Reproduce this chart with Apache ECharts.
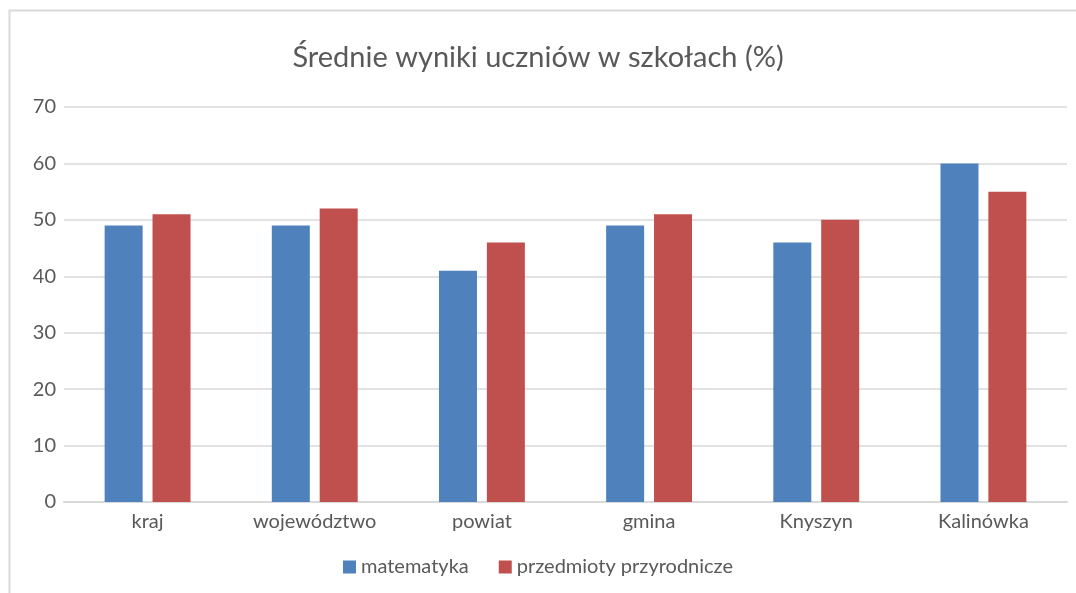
<!DOCTYPE html>
<html>
<head>
<meta charset="utf-8">
<script src="https://cdn.jsdelivr.net/npm/echarts@6/dist/echarts.min.js"></script>
<style>html,body{margin:0;padding:0;background:#fff;}</style>
</head>
<body>
<div id="main" style="width:1076px;height:593px;"></div>
<script>
// dane
var categories = ['kraj', 'województwo', 'powiat', 'gmina', 'Knyszyn', 'Kalinówka'];
var matematyka = [49, 49, 41, 49, 46, 60];
var przyroda = [51, 52, 46, 51, 50, 55];

var chart = echarts.init(document.getElementById('main'));
var font = 'Lato, "Open Sans", sans-serif';
chart.setOption({
    animation: false,
    textStyle: { fontFamily: font },
    graphic: [{
        type: 'rect',
        shape: { x: 9.5, y: 10.5, width: 1200, height: 800 },
        style: { fill: 'none', stroke: '#d9d9d9', lineWidth: 2 }
    }],
    title: {
        text: 'Średnie wyniki uczniów w szkołach (%)',
        left: 'center',
        top: 38,
        textStyle: { fontSize: 29, fontWeight: 'normal', color: '#595959', fontFamily: font }
    },
    grid: { left: 64, right: 9, top: 107, bottom: 91 },
    legend: {
        top: 552,
        left: 'center',
        itemWidth: 13,
        itemHeight: 13,
        itemGap: 30,
        icon: 'rect',
        textStyle: { fontSize: 20, color: '#595959', fontFamily: font },
        data: ['matematyka', 'przedmioty przyrodnicze']
    },
    xAxis: {
        type: 'category',
        data: categories,
        axisLine: { lineStyle: { color: '#d9d9d9', width: 2 } },
        axisTick: { show: false },
        axisLabel: { fontSize: 20, color: '#595959', margin: 10 }
    },
    yAxis: {
        type: 'value',
        min: 0,
        max: 70,
        interval: 10,
        axisLine: { show: false },
        axisTick: { show: false },
        axisLabel: { fontSize: 20, color: '#595959', margin: 8 },
        splitLine: { lineStyle: { color: '#d9d9d9', width: 1.5 } }
    },
    series: [{
        name: 'matematyka',
        type: 'bar',
        data: matematyka,
        barWidth: 38,
        barGap: '26%',
        itemStyle: { color: '#4f81bd' }
    }, {
        name: 'przedmioty przyrodnicze',
        type: 'bar',
        data: przyroda,
        barWidth: 38,
        itemStyle: { color: '#c0504d' }
    }]
});
</script>
</body>
</html>
